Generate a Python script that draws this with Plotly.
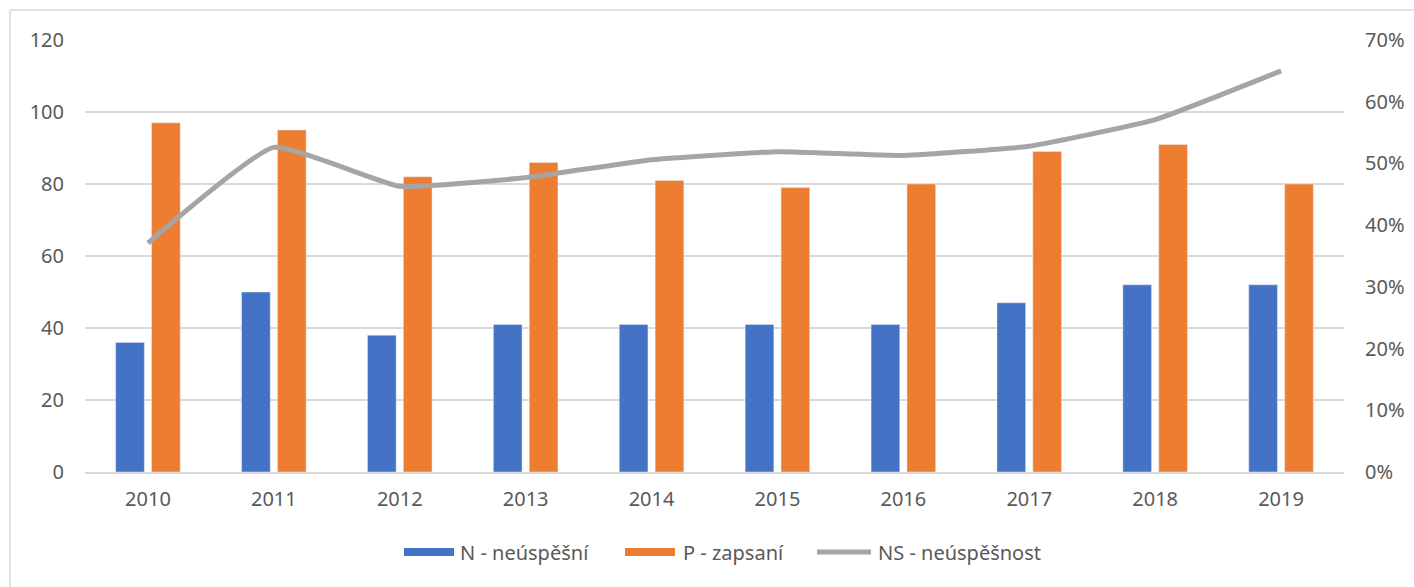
import plotly.graph_objects as go

years = ["2010", "2011", "2012", "2013", "2014", "2015", "2016", "2017", "2018", "2019"]
n_neuspesni = [36, 50, 38, 41, 41, 41, 41, 47, 52, 52]
p_zapsani = [97, 95, 82, 86, 81, 79, 80, 89, 91, 80]
ns_neuspesnost = [0.371, 0.526, 0.463, 0.477, 0.506, 0.519, 0.513, 0.528, 0.571, 0.650]

left_ticks = [0, 20, 40, 60, 80, 100, 120]
right_ticks = [0, 0.1, 0.2, 0.3, 0.4, 0.5, 0.6, 0.7]

names = ["N - neúspěšní", "P - zapsaní", "NS - neúspěšnost"]
BLUE, ORANGE, GRAY = "#4472C4", "#ED7D31", "#A5A5A5"
TXT = "#595959"
FONT = "Noto Sans"

W, H = 1414, 587
L, R, T, B = 85, 70, 40, 115
PW, PH = W - L - R, H - T - B

def px_x(p):
    return (p - L) / PW

def px_y(p):
    return (H - B - p) / PH

fig = go.Figure()
fig.add_trace(go.Bar(x=years, y=n_neuspesni, name=names[0], marker_color=BLUE, showlegend=False))
fig.add_trace(go.Bar(x=years, y=p_zapsani, name=names[1], marker_color=ORANGE, showlegend=False))
fig.add_trace(go.Scatter(x=years, y=ns_neuspesnost, name=names[2], yaxis="y2", mode="lines",
                         line=dict(color=GRAY, width=5, shape="spline", smoothing=0.4),
                         showlegend=False))

shapes = []
annotations = []
# chart border: only top and left edges are visible in the reference
border = dict(color="#D9D9D9", width=1.5)
shapes.append(dict(type="line", xref="paper", yref="paper",
                   x0=px_x(10), x1=px_x(W + 20), y0=px_y(10), y1=px_y(10), line=border, layer="below"))
shapes.append(dict(type="line", xref="paper", yref="paper",
                   x0=px_x(10), x1=px_x(10), y0=px_y(10), y1=px_y(H + 20), line=border, layer="below"))

# custom legend
ly = 552
legend_items = [
    (404, 454, 458, "rect", BLUE, names[0]),
    (625, 675, 681, "rect", ORANGE, names[1]),
    (815, 873, 876, "line", GRAY, names[2]),
]
for x0, x1, tx, kind, col, label in legend_items:
    if kind == "rect":
        shapes.append(dict(type="rect", xref="paper", yref="paper",
                           x0=px_x(x0), x1=px_x(x1), y0=px_y(ly + 4), y1=px_y(ly - 4),
                           line=dict(width=0), fillcolor=col))
    else:
        shapes.append(dict(type="line", xref="paper", yref="paper",
                           x0=px_x(x0 + 2), x1=px_x(x1 - 2), y0=px_y(ly), y1=px_y(ly),
                           line=dict(color=col, width=5)))
    annotations.append(dict(text=label, xref="paper", yref="paper", x=px_x(tx), y=px_y(ly),
                            xanchor="left", yanchor="middle", showarrow=False,
                            font=dict(family=FONT, size=20, color=TXT)))

fig.update_layout(
    width=W, height=H,
    margin=dict(l=L, r=R, t=T, b=B, autoexpand=False),
    paper_bgcolor="white", plot_bgcolor="white",
    barmode="group", bargap=0.43, bargroupgap=0.2,
    font=dict(family=FONT, size=20, color=TXT),
    xaxis=dict(type="category", showgrid=False, showline=True, linecolor="#D9D9D9", linewidth=1.5,
               ticks="", tickfont=dict(family=FONT, size=20, color=TXT), ticklabelstandoff=8),
    yaxis=dict(range=[0, 120], tickvals=left_ticks, showgrid=True, gridcolor="#D9D9D9", gridwidth=1.5,
               zeroline=False, showline=False, ticks="",
               tickfont=dict(family=FONT, size=20, color=TXT), ticklabelstandoff=20),
    yaxis2=dict(range=[0, 0.7], tickvals=right_ticks, tickformat=".0%", overlaying="y", side="right",
                showgrid=False, zeroline=False, showline=False, ticks="",
                tickfont=dict(family=FONT, size=20, color=TXT), ticklabelstandoff=20),
    shapes=shapes, annotations=annotations,
    showlegend=False,
)

fig.write_html("out.html", config={"displayModeBar": False},
               post_script="document.body.style.margin='0';document.body.style.overflow='hidden';")
